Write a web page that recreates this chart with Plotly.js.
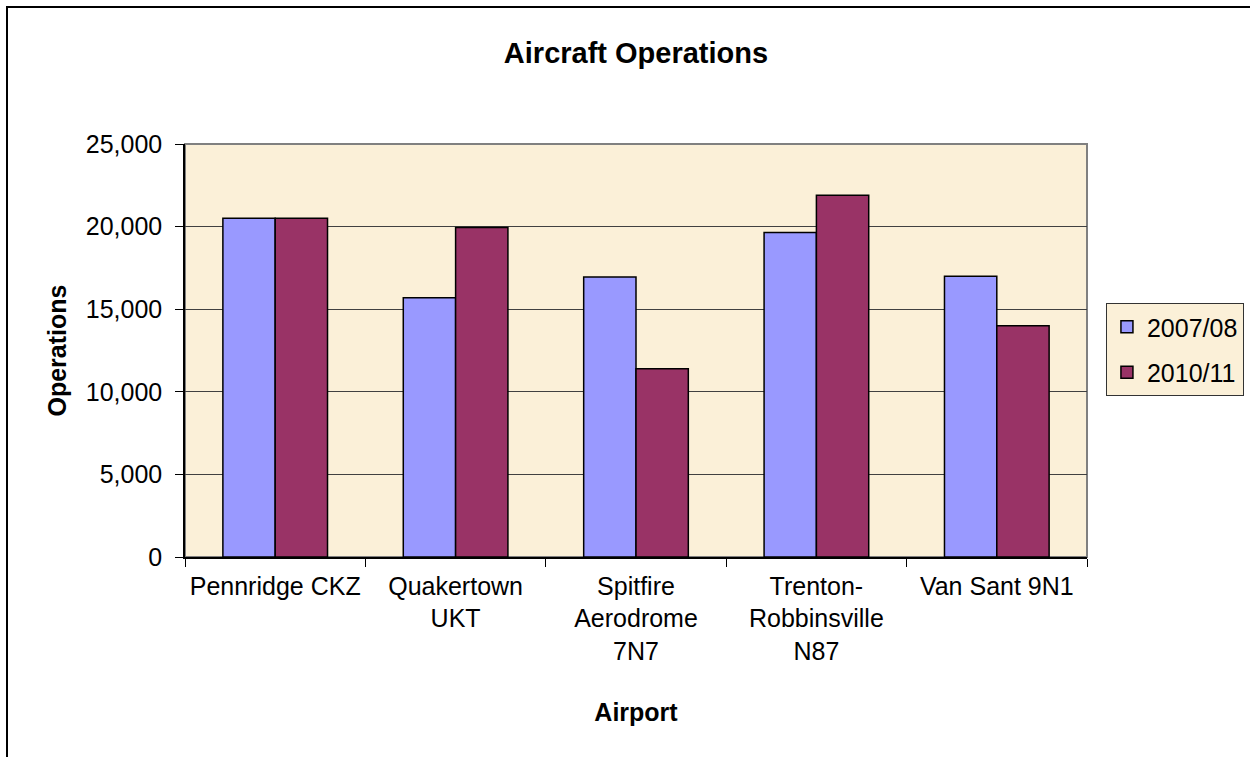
<!DOCTYPE html>
<html>
<head>
<meta charset="utf-8">
<script src="https://cdn.plot.ly/plotly-3.0.1.min.js"></script>
<style>
  body { margin: 0; overflow: hidden; background: #fff; }
  #graph { width: 1250px; height: 757px; }
  #frame { position: absolute; left: 6px; top: 6px; width: 1400px; height: 900px;
           border: 2px solid #000; pointer-events: none; }
</style>
</head>
<body>
<div id="graph"></div>
<div id="frame"></div>
<script>
var airports = ['Pennridge CKZ', 'Quakertown<br>UKT', 'Spitfire<br>Aerodrome<br>7N7',
                'Trenton-<br>Robbinsville<br>N87', 'Van Sant 9N1'];
var ops0708 = [20500, 15700, 16950, 19650, 17000];
var ops1011 = [20500, 19950, 11400, 21900, 14000];

var font = 'Arial, "Liberation Sans", sans-serif';

var s1 = {
    x: airports,
    y: ops0708,
    type: 'bar',
    name: '2007/08',
    legendgroup: 'a',
    marker: { color: '#9999FF', line: { color: '#000', width: 1.5 } }
};
var s2 = {
    x: airports,
    y: ops1011,
    type: 'bar',
    name: '2010/11',
    legendgroup: 'b',
    marker: { color: '#993366', line: { color: '#000', width: 1.5 } }
};

var layout = {
    width: 1250,
    height: 757,
    margin: { l: 185, r: 163, t: 144, b: 200, autoexpand: false },
    paper_bgcolor: '#fff',
    plot_bgcolor: '#FBF0D8',
    font: { family: font, size: 25, color: '#000' },
    title: {
        text: '<b>Aircraft Operations</b>',
        font: { family: font, size: 29, color: '#000' },
        x: 0.5, xref: 'paper',
        y: 1 - 53 / 757, yref: 'container', yanchor: 'middle'
    },
    barmode: 'group',
    bargap: 0.42,
    bargroupgap: 0,
    xaxis: {
        type: 'category',
        tickson: 'boundaries',
        ticks: 'outside',
        ticklen: 8,
        tickcolor: '#000',
        tickangle: 0,
        showline: true,
        linecolor: '#000',
        linewidth: 1.5,
        showgrid: false,
        tickfont: { size: 25 },
        ticklabelstandoff: 6,
        title: { text: '<b>Airport</b>', font: { size: 25 }, standoff: 40 },
        automargin: true
    },
    yaxis: {
        range: [0, 25000],
        dtick: 5000,
        tickformat: ',d',
        ticks: 'outside',
        ticklen: 8,
        tickcolor: '#000',
        showline: true,
        linecolor: '#000',
        linewidth: 1.5,
        gridcolor: '#404040',
        gridwidth: 1,
        zeroline: false,
        tickfont: { size: 25 },
        ticklabelstandoff: 8,
        title: { text: '<b>Operations</b>', font: { size: 25 }, standoff: 12 },
        automargin: true
    },
    legend: {
        x: 1.021, xanchor: 'left',
        y: 0.615, yanchor: 'top',
        traceorder: 'grouped',
        tracegroupgap: 10,
        itemwidth: 30,
        bgcolor: '#FBF0D8',
        bordercolor: '#333',
        borderwidth: 1,
        font: { size: 25 }
    },
    shapes: [{
        type: 'rect', xref: 'paper', yref: 'paper',
        x0: 0, x1: 1, y0: 0, y1: 1,
        line: { color: '#808080', width: 2 },
        layer: 'below'
    }]
};

Plotly.newPlot('graph', [s1, s2], layout, { displayModeBar: false });
</script>
</body>
</html>
